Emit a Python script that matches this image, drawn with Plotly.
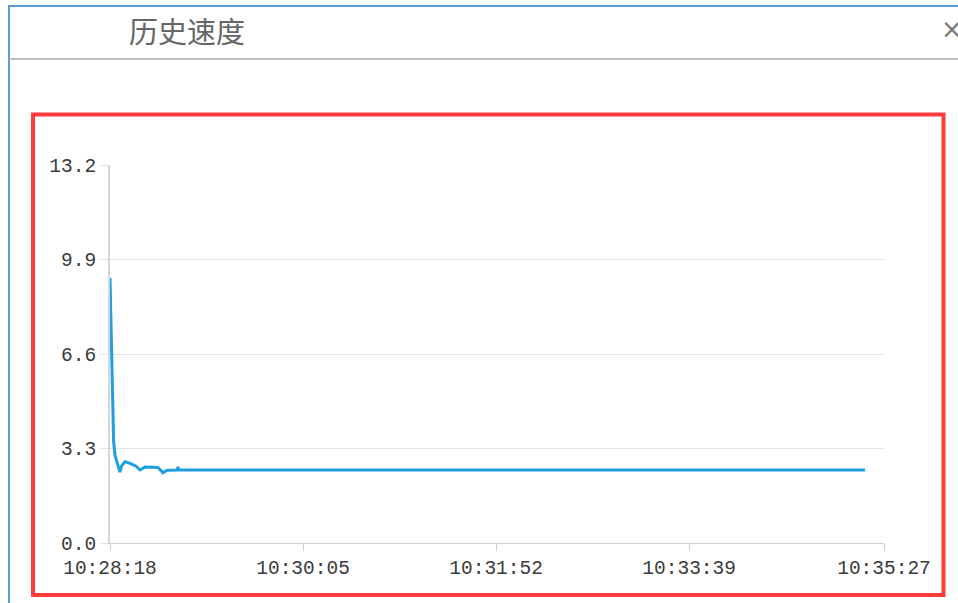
import pandas as pd
import plotly.graph_objects as go

# speed samples (time of day, value)
times = ["10:28:18.0", "10:28:18.5", "10:28:19.2", "10:28:20.0", "10:28:20.8",
         "10:28:21.6", "10:28:22.6", "10:28:23.5", "10:28:24.5", "10:28:26.3",
         "10:28:28.5", "10:28:30.7", "10:28:32.5", "10:28:34.6", "10:28:37.4",
         "10:28:44.6", "10:28:47.4", "10:28:49.6", "10:28:55.2", "10:28:55.7",
         "10:28:56.2", "10:30:05.0", "10:31:52.0", "10:33:39.0", "10:35:16.5"]
speed = [9.25, 8.05, 5.85, 3.55, 3.05,
         2.85, 2.7, 2.48, 2.7, 2.84,
         2.8, 2.74, 2.68, 2.55, 2.65,
         2.64, 2.45, 2.54, 2.55, 2.66,
         2.55, 2.55, 2.55, 2.55, 2.55]

x_ticks = ["10:28:18", "10:30:05", "10:31:52", "10:33:39", "10:35:27"]
y_ticks = [0.0, 3.3, 6.6, 9.9, 13.2]

DAY = "2020-01-01 "
x = pd.to_datetime([DAY + t for t in times])
xt = pd.to_datetime([DAY + t for t in x_ticks])

W, H = 958, 603
L, R, T, B = 110, 884, 165, 543


def px(v):
    return (v - L) / (R - L)


def py(v):
    return (B - v) / (B - T)


fig = go.Figure(go.Scatter(x=x, y=speed, mode="lines",
                           line=dict(color="#1e9fe2", width=3), hoverinfo="skip"))

font = dict(family="Liberation Mono, monospace", size=19.5, color="#3a3a3a")
fig.update_layout(
    width=W, height=H, showlegend=False,
    paper_bgcolor="white", plot_bgcolor="white",
    margin=dict(l=L, r=W - R, t=T, b=H - B),
    xaxis=dict(range=[xt[0], xt[-1]], tickvals=xt, ticktext=x_ticks,
               showgrid=False, zeroline=False, showline=True, linecolor="#cfcfcf", linewidth=1,
               ticks="outside", ticklen=7, tickcolor="#cfcfcf", tickfont=font),
    yaxis=dict(range=[0, 13.2], tickvals=y_ticks, ticktext=[f"{v:.1f}" for v in y_ticks],
               showgrid=True, gridcolor="#e3e3e3", gridwidth=1, zeroline=False,
               showline=True, linecolor="#d6d6d6", linewidth=2,
               ticks="outside", ticklen=8, tickcolor="#e3e3e3", tickfont=font),
)

# dialog frame, header and red highlight box
fig.add_shape(type="rect", xref="paper", yref="paper", layer="below",
              x0=px(9), x1=px(990), y0=py(640), y1=py(6),
              line=dict(color="#5b9bd5", width=2))
fig.add_shape(type="line", xref="paper", yref="paper",
              x0=px(9), x1=px(990), y0=py(59), y1=py(59),
              line=dict(color="#bdbdbd", width=2))
fig.add_shape(type="rect", xref="paper", yref="paper",
              x0=px(33), x1=px(943.5), y0=py(595), y1=py(114.5),
              line=dict(color="#ff3b3b", width=4))

fig.add_annotation(text="历史速度", xref="paper", yref="paper", x=px(127), y=py(30),
                   xanchor="left", yanchor="middle", showarrow=False,
                   font=dict(family="Noto Sans CJK SC", size=29, color="#666666"))
fig.add_annotation(text="×", xref="paper", yref="paper", x=px(939), y=py(29),
                   xanchor="left", yanchor="middle", showarrow=False,
                   font=dict(family="DejaVu Sans", size=26, color="#7a7a7a"))

# drop the default 8px body margin so the figure fills the window
fig.write_html("out.html", config={"displayModeBar": False},
               post_script="document.body.style.margin='0';document.body.style.overflow='hidden';")
